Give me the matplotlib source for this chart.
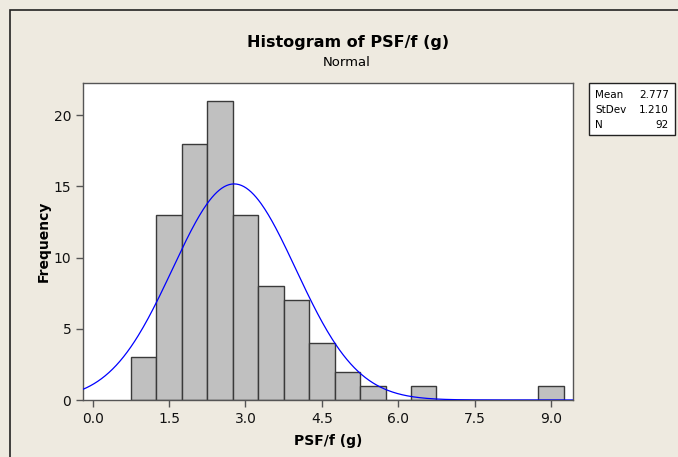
import numpy as np
import matplotlib
matplotlib.use("Agg")
import matplotlib.pyplot as plt
from matplotlib.patches import Rectangle

# Data
bin_centers = [1.0, 1.5, 2.0, 2.5, 3.0, 3.5, 4.0, 4.5, 5.0, 5.5, 6.0, 6.5, 7.0, 7.5, 8.0, 8.5, 9.0]
counts = [3, 13, 18, 21, 13, 8, 7, 4, 2, 1, 0, 1, 0, 0, 0, 0, 1]
bin_width = 0.5
mean_val = 2.777
std_val = 1.210
n_val = 92
x_ticks = [0.0, 1.5, 3.0, 4.5, 6.0, 7.5, 9.0]
x_tick_labels = ["0.0", "1.5", "3.0", "4.5", "6.0", "7.5", "9.0"]
y_ticks = [0, 5, 10, 15, 20]

BG = "#EEEAE0"
W, H = 678, 457
fig = plt.figure(figsize=(W / 100, H / 100), dpi=100, facecolor=BG)

# outer frame (cropped right/bottom in reference)
fig.patches.append(Rectangle((10 / W, -0.1), 2, 1 - 10 / H + 0.1, transform=fig.transFigure,
                             fill=False, edgecolor="#222222", linewidth=1.2))

ax = fig.add_axes([83 / W, 1 - 400 / H, (573 - 83) / W, (400 - 83) / H])
ax.set_facecolor("white")
ax.bar(bin_centers, counts, width=bin_width, color="#C0C0C0", edgecolor="#3A3A3A", linewidth=1.0, zorder=2)

xlim = (-0.19, 9.43)
xs = np.linspace(xlim[0], xlim[1], 400)
ys = n_val * bin_width / (std_val * np.sqrt(2 * np.pi)) * np.exp(-0.5 * ((xs - mean_val) / std_val) ** 2)
ax.plot(xs, ys, color="#0000FF", linewidth=0.9, zorder=3)

ax.set_xlim(*xlim)
ax.set_ylim(0, 22.25)
ax.set_xticks(x_ticks)
ax.set_xticklabels(x_tick_labels)
ax.set_yticks(y_ticks)
for s in ax.spines.values():
    s.set_color("#555555")
    s.set_linewidth(1.0)
ax.tick_params(direction="out", length=5, width=1, colors="#555555", labelcolor="#111111", labelsize=10)

ax.set_xlabel("PSF/f (g)", fontsize=10, fontweight="bold", labelpad=6)
ax.set_ylabel("Frequency", fontsize=10, fontweight="bold", labelpad=2)

fig.text(348 / W, 1 - 43 / H, "Histogram of PSF/f (g)", ha="center", va="center", fontsize=11.5, fontweight="bold")
fig.text(347 / W, 1 - 62 / H, "Normal", ha="center", va="center", fontsize=9.5)

# stats box
fig.patches.append(Rectangle((589 / W, 1 - 135 / H), (675 - 589) / W, (135 - 83) / H,
                             transform=fig.transFigure, facecolor="white", edgecolor="#222222", linewidth=1.0))
rows = [("Mean", f"{mean_val:.3f}"), ("StDev", f"{std_val:.3f}"), ("N", f"{n_val}")]
for i, (lab, val) in enumerate(rows):
    y = 1 - (95 + 15 * i) / H
    fig.text(595 / W, y, lab, ha="left", va="center", fontsize=7.5)
    fig.text(669 / W, y, val, ha="right", va="center", fontsize=7.5)

fig.savefig("out.png", dpi=100, facecolor=BG)
